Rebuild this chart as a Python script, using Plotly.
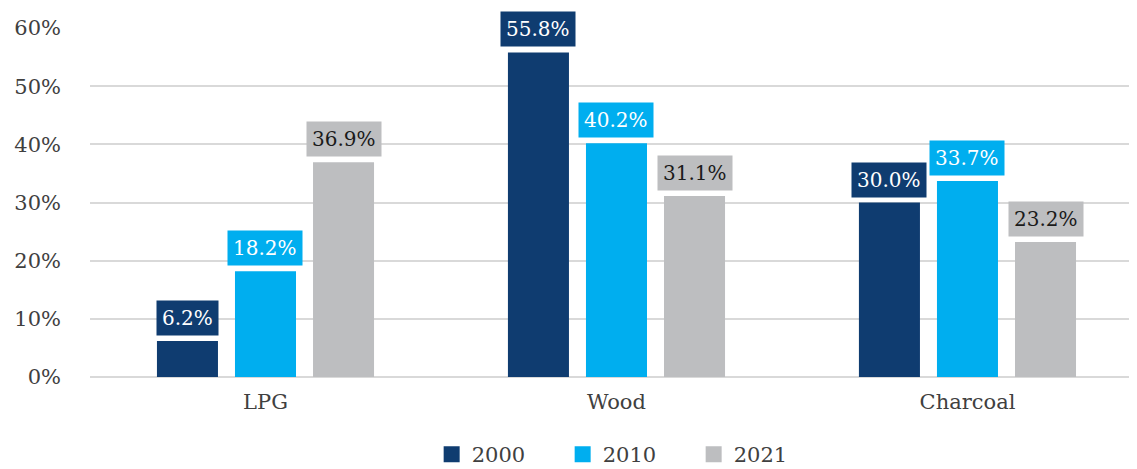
import plotly.graph_objects as go

categories = ["LPG", "Wood", "Charcoal"]
years = ["2000", "2010", "2021"]
values_2000 = [6.2, 55.8, 30.0]
values_2010 = [18.2, 40.2, 33.7]
values_2021 = [36.9, 31.1, 23.2]
colors = ["#0F3C70", "#00AEEF", "#BDBEC0"]
label_colors = ["#FFFFFF", "#FFFFFF", "#1A1A1A"]
y_ticks = [0, 10, 20, 30, 40, 50, 60]
y_tick_text = [f"{t}%" for t in y_ticks]

series = [values_2000, values_2010, values_2021]
FONT = "DejaVu Serif"
BARGAP = 0.333
BARGROUPGAP = 0.218

fig = go.Figure()
for name, vals, col in zip(years, series, colors):
    fig.add_trace(go.Bar(x=categories, y=vals, name=name, marker=dict(color=col, line=dict(width=0)),
                         showlegend=False, hoverinfo="skip"))
    fig.add_trace(go.Scatter(x=[None], y=[None], mode="markers", name=name,
                             marker=dict(symbol="square", size=18, color=col)))

slot = (1 - BARGAP) / len(series)
for si, (vals, col, tcol) in enumerate(zip(series, colors, label_colors)):
    off = (si - (len(series) - 1) / 2) * slot
    for ci, v in enumerate(vals):
        fig.add_annotation(x=ci + off, y=v, xref="x", yref="y", text=f"{v:.1f}%",
                           showarrow=False, yanchor="bottom", yshift=5,
                           bgcolor=col, borderpad=5,
                           font=dict(family=FONT, size=20, color=tcol))

# page body has an 8px margin, so the figure is sized/offset to fit the 1137x469 window
fig.update_layout(
    width=1129, height=461,
    margin=dict(l=82, r=0, t=20, b=92, autoexpand=False),
    paper_bgcolor="white", plot_bgcolor="white",
    barmode="group", bargap=BARGAP, bargroupgap=BARGROUPGAP,
    font=dict(family=FONT, size=21, color="#404040"),
    legend=dict(orientation="h", x=0.514, xanchor="center", y=-0.222, yanchor="middle",
                font=dict(family=FONT, size=21, color="#404040"), entrywidth=86),
)
fig.update_xaxes(type="category", range=[-0.5, 2.483], showgrid=False, showline=False,
                 automargin=False,
                 ticks="", ticklabelstandoff=10, tickfont=dict(family=FONT, size=21, color="#404040"))
fig.update_yaxes(range=[0, 60], tickmode="array", tickvals=y_ticks, ticktext=y_tick_text,
                 showgrid=True, automargin=False,
                 gridcolor="#D9D9D9", gridwidth=1.5, zeroline=True, zerolinecolor="#D9D9D9",
                 zerolinewidth=1.5, showline=False, ticks="", ticklabelstandoff=28,
                 tickfont=dict(family=FONT, size=21, color="#404040"))

fig.write_html("out.html")
